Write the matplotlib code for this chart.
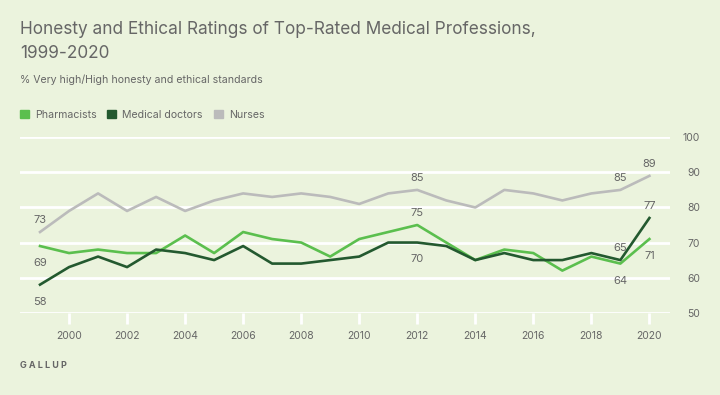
import matplotlib
matplotlib.use("Agg")
import matplotlib.pyplot as plt
from matplotlib.patches import Rectangle

years = list(range(1999, 2021))
pharmacists = [69, 67, 68, 67, 67, 72, 67, 73, 71, 70, 66, 71, 73, 75, 70, 65, 68, 67, 62, 66, 64, 71]
doctors = [58, 63, 66, 63, 68, 67, 65, 69, 64, 64, 65, 66, 70, 70, 69, 65, 67, 65, 65, 67, 65, 77]
nurses = [73, 79, 84, 79, 83, 79, 82, 84, 83, 84, 83, 81, 84, 85, 82, 80, 85, 84, 82, 84, 85, 89]
series_names = ["Pharmacists", "Medical doctors", "Nurses"]
yticks = [50, 60, 70, 80, 90, 100]
xticks = list(range(2000, 2021, 2))

BG = "#EBF3DD"
C_PH = "#5BBF4E"
C_DR = "#23592F"
C_NU = "#BBBBBB"
TXT = "#666666"

plt.rcParams['font.family'] = ['Inter', 'DejaVu Sans']

fig = plt.figure(figsize=(7.2, 3.95), dpi=100)
fig.patch.set_facecolor(BG)
ax = fig.add_axes([20/720, 1-312.7/395, 650/720, 175.4/395])
ax.set_facecolor(BG)
ax.set_xlim(1998.31, 2020.71)
ax.set_ylim(50, 100)

for y in yticks:
    ax.axhline(y, color="white", lw=2, zorder=1)

ax.plot(years, nurses, color=C_NU, lw=1.9, zorder=3)
ax.plot(years, pharmacists, color=C_PH, lw=1.9, zorder=4)
ax.plot(years, doctors, color=C_DR, lw=1.9, zorder=5)

for s in ax.spines.values():
    s.set_visible(False)

ax.set_xticks(xticks)
ax.set_xticklabels([str(x) for x in xticks])
ax.tick_params(axis='x', length=8, width=2, color="white", pad=5,
               labelsize=7.5, labelcolor=TXT)
ax.set_yticks(yticks)
ax.yaxis.tick_right()
ax.tick_params(axis='y', length=0, pad=21.5, labelsize=7.5, labelcolor=TXT)
for lab in ax.get_yticklabels():
    lab.set_horizontalalignment('right')

def lab(x, y, above):
    off = 8.6 if above else -12.2
    ax.annotate(str(y), (x, y), xytext=(0, off), textcoords='offset points',
                ha='center', va='center', fontsize=8, color=TXT, zorder=6)

def idx(yr):
    return years.index(yr)

lab(1999, nurses[idx(1999)], True)
lab(1999, pharmacists[idx(1999)], False)
lab(1999, doctors[idx(1999)], False)
lab(2012, nurses[idx(2012)], True)
lab(2012, pharmacists[idx(2012)], True)
lab(2012, doctors[idx(2012)], False)
lab(2019, nurses[idx(2019)], True)
lab(2019, doctors[idx(2019)], True)
lab(2019, pharmacists[idx(2019)], False)
lab(2020, nurses[idx(2020)], True)
lab(2020, doctors[idx(2020)], True)
lab(2020, pharmacists[idx(2020)], False)

# Title and subtitle
fig.text(20/720, 1-34/395, "Honesty and Ethical Ratings of Top-Rated Medical Professions,",
         fontsize=12.4, color=TXT, ha='left', va='baseline')
fig.text(20/720, 1-58/395, "1999-2020", fontsize=12.4, color=TXT, ha='left', va='baseline')
fig.text(20/720, 1-83/395, "% Very high/High honesty and ethical standards",
         fontsize=7.6, color=TXT, ha='left', va='baseline')

# Legend
leg_items = [(series_names[0], C_PH, 20), (series_names[1], C_DR, 107), (series_names[2], C_NU, 214)]
for name, col, x0 in leg_items:
    fig.patches.append(Rectangle((x0/720, 1-118/395), 9/720, 8.5/395,
                                 transform=fig.transFigure, color=col, figure=fig))
    fig.text((x0+15)/720, 1-118/395, name, fontsize=7.6, color=TXT, ha='left', va='baseline')

# Footer
fig.text(20/720, 1-368/395, "G A L L U P", fontsize=6.5, color=TXT, fontweight='bold',
         ha='left', va='baseline')

fig.savefig("out.png", dpi=100, facecolor=BG)
